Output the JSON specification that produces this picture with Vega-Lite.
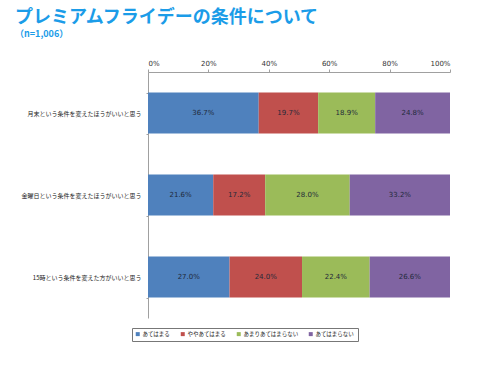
{
  "$schema": "https://vega.github.io/schema/vega-lite/v6.json",
  "width": 302,
  "height": 246,
  "autosize": {"type": "none"},
  "padding": {"left": 148, "top": 72, "right": 40, "bottom": 50},
  "background": "white",
  "title": {
    "text": "プレミアムフライデーの条件について",
    "subtitle": "（n=1,006）",
    "anchor": "start",
    "frame": "group",
    "dx": -133,
    "offset": 20,
    "font": "Noto Sans CJK JP",
    "fontSize": 18,
    "fontWeight": "bold",
    "color": "#1b9ce8",
    "subtitleFont": "Noto Sans CJK JP",
    "subtitleFontSize": 9,
    "subtitleFontWeight": "bold",
    "subtitleColor": "#1b9ce8",
    "subtitlePadding": 3
  },
  "data": {
    "values": [
      {"q": "月末という条件を変えたほうがいいと思う", "cat": "あてはまる", "k": 1, "v": 0.367},
      {"q": "月末という条件を変えたほうがいいと思う", "cat": "ややあてはまる", "k": 2, "v": 0.197},
      {"q": "月末という条件を変えたほうがいいと思う", "cat": "あまりあてはまらない", "k": 3, "v": 0.189},
      {"q": "月末という条件を変えたほうがいいと思う", "cat": "あてはまらない", "k": 4, "v": 0.248},
      {"q": "金曜日という条件を変えたほうがいいと思う", "cat": "あてはまる", "k": 1, "v": 0.216},
      {"q": "金曜日という条件を変えたほうがいいと思う", "cat": "ややあてはまる", "k": 2, "v": 0.172},
      {"q": "金曜日という条件を変えたほうがいいと思う", "cat": "あまりあてはまらない", "k": 3, "v": 0.28},
      {"q": "金曜日という条件を変えたほうがいいと思う", "cat": "あてはまらない", "k": 4, "v": 0.332},
      {"q": "15時という条件を変えた方がいいと思う", "cat": "あてはまる", "k": 1, "v": 0.27},
      {"q": "15時という条件を変えた方がいいと思う", "cat": "ややあてはまる", "k": 2, "v": 0.24},
      {"q": "15時という条件を変えた方がいいと思う", "cat": "あまりあてはまらない", "k": 3, "v": 0.224},
      {"q": "15時という条件を変えた方がいいと思う", "cat": "あてはまらない", "k": 4, "v": 0.266}
    ]
  },
  "encoding": {
    "y": {
      "field": "q",
      "type": "nominal",
      "sort": null,
      "scale": {"paddingInner": 0.5, "paddingOuter": 0.25},
      "axis": {
        "title": null,
        "labelFont": "Noto Sans CJK JP",
        "labelFontSize": 6,
        "labelColor": "#222222",
        "labelPadding": 5,
        "labelLimit": 200,
        "domainColor": "#a0a0a0",
        "tickColor": "#a0a0a0",
        "tickBand": "extent",
        "tickSize": 2
      }
    }
  },
  "layer": [
    {
      "mark": {"type": "bar"},
      "encoding": {
        "x": {
          "field": "v",
          "type": "quantitative",
          "stack": "normalize",
          "scale": {"domain": [0, 1]},
          "axis": {
            "orient": "top",
            "title": null,
            "format": ".0%",
            "values": [0, 0.2, 0.4, 0.6, 0.8, 1],
            "grid": false,
            "labelFont": "DejaVu Sans",
            "labelFontSize": 7,
            "labelColor": "#333333",
            "labelPadding": 3,
            "domainColor": "#a0a0a0",
            "tickColor": "#a0a0a0",
            "tickSize": 3
          }
        },
        "color": {
          "field": "cat",
          "type": "nominal",
          "scale": {
            "domain": ["あてはまる", "ややあてはまる", "あまりあてはまらない", "あてはまらない"],
            "range": ["#4f81bd", "#c0504d", "#9bbb59", "#8064a2"]
          },
          "legend": {
            "orient": "none",
            "legendX": -16,
            "legendY": 256,
            "direction": "horizontal",
            "title": null,
            "strokeColor": "#777777",
            "fillColor": "white",
            "padding": 3,
            "symbolType": "square",
            "symbolSize": 16,
            "symbolStrokeWidth": 0,
            "labelFont": "Noto Sans CJK JP",
            "labelFontSize": 5.5,
            "labelColor": "#222222",
            "labelOffset": 2,
            "columnPadding": 9
          }
        },
        "order": {"field": "k", "type": "quantitative"}
      }
    },
    {
      "mark": {"type": "text", "font": "DejaVu Sans", "fontSize": 7, "color": "#1f2a3a"},
      "encoding": {
        "x": {"field": "v", "type": "quantitative", "stack": "normalize", "bandPosition": 0.5},
        "detail": {"field": "cat"},
        "order": {"field": "k", "type": "quantitative"},
        "text": {"field": "v", "type": "quantitative", "format": ".1%"}
      }
    }
  ],
  "config": {"view": {"stroke": null}}
}
